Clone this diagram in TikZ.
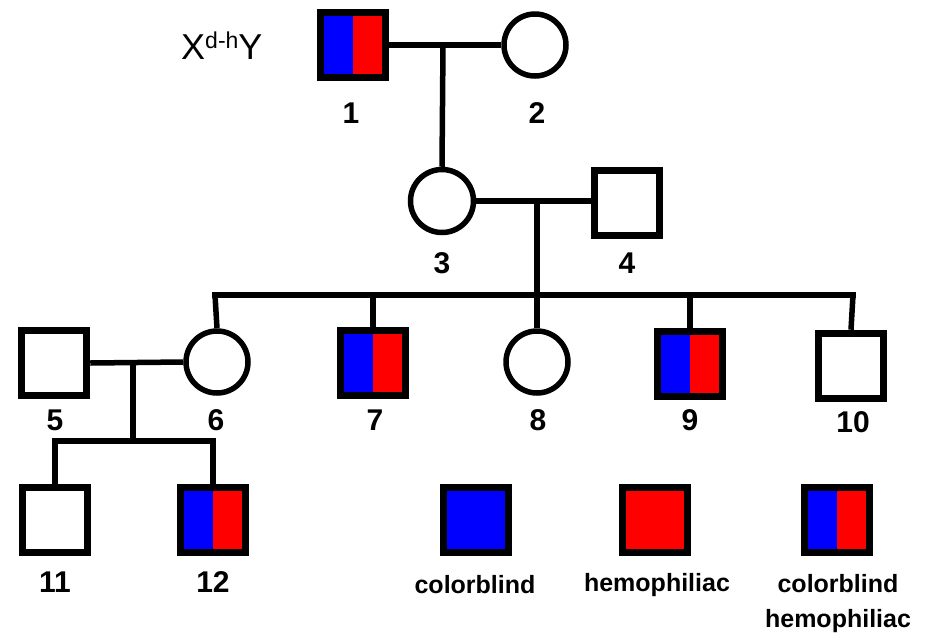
\documentclass[tikz,border=0pt]{standalone}
\usepackage{fontspec}
\setmainfont{Liberation Sans}
\definecolor{pblue}{RGB}{0,0,255}
\definecolor{pred}{RGB}{255,0,0}
\begin{document}
\begin{tikzpicture}[x=1pt,y=-1pt,
  male/.style={draw, line width=7.5pt, minimum size=65pt, inner sep=0pt, line join=miter},
  female/.style={circle, draw, line width=5.5pt, minimum size=62pt, inner sep=0pt},
  cb/.style={fill=pblue},
  hemo/.style={fill=pred},
  both/.style={path picture={
      \fill[pblue] (path picture bounding box.south west) rectangle (path picture bounding box.north);
      \fill[pred] (path picture bounding box.south) rectangle (path picture bounding box.north east);}},
  link/.style={line width=5.5pt},
  num/.style={font=\fontsize{30}{30}\selectfont\bfseries, inner sep=0pt},
  leg/.style={font=\fontsize{25}{35}\selectfont\bfseries, inner sep=0pt, align=center}]
\useasboundingbox (0,0) rectangle (938,633);
% generation I
\node[male, both] (n1) at (353,45) {};
\node[female] (n2) at (535,45) {};
\node[female, minimum size=63pt] (n3) at (442,201) {};
\node[male] (n4) at (627,203) {};
% generation III
\node[male] (n5) at (54,363) {};
\node[female] (n6) at (217,362) {};
\node[male, both] (n7) at (373,363) {};
\node[female] (n8) at (537,362) {};
\node[male, both] (n9) at (690,364) {};
\node[male] (n10) at (851,366) {};
% generation IV
\node[male] (n11) at (55,520) {};
\node[male, both] (n12) at (213,520) {};
% legend
\node[male, cb] (L1) at (476,520) {};
\node[male, hemo] (L2) at (655,520) {};
\node[male, both] (L3) at (837,520) {};
% coordinates
\coordinate (m12) at (443,45);
\coordinate (m34) at (537,201);
\coordinate (sib) at (537,295);
\coordinate (sibL) at (215,295);
\coordinate (sibR) at (853,295);
\coordinate (m56) at (133,362);
\coordinate (k56) at (133,441);
\coordinate (kL) at (55,441);
\coordinate (kR) at (213,441);
% connectors
\draw[link] (n1.east) -- (n2.west);
\draw[link] (m12) -- (n3.north);
\draw[link] (n3.east) -- (n3.east -| n4.west);
\draw[link] (m34) -- (sib);
\draw[link, line cap=rect] (sibL) -- (sibR);
\draw[link] (sibL) -- (n6.north);
\draw[link] (n7.north |- sib) -- (n7.north);
\draw[link] (n8.north |- sib) -- (n8.north);
\draw[link] (n9.north |- sib) -- (n9.north);
\draw[link] (sibR) -- (n10.north);
\draw[link] (n5.east) -- (n6.west);
\draw[link] (m56) -- (k56);
\draw[link, line cap=rect] (kL) -- (kR);
\draw[link] (kL) -- (n11.north);
\draw[link] (kR) -- (n12.north);
% labels
\node[num] (l1) at (351,113) {1};
\node[num] (l2) at (537,113) {2};
\node[num] (l3) at (442,263) {3};
\node[num] (l4) at (627,263) {4};
\node[num] (l5) at (55,420) {5};
\node[num] (l6) at (216,420) {6};
\node[num] (l7) at (375,420) {7};
\node[num] (l8) at (538,420) {8};
\node[num] (l9) at (690,420) {9};
\node[num] (l10) at (853,422) {10};
\node[num] (l11) at (55,582) {11};
\node[num] (l12) at (213,582) {12};
\node[leg] (t1) at (475,585) {colorblind};
\node[leg] (t2) at (657,585) {hemophiliac};
\node[leg, anchor=north] (t3) at (838,574) {colorblind\\hemophiliac};
\node[inner sep=0pt, anchor=base west, font=\fontsize{36}{36}\selectfont] (g1) at (181,59)
  {X\raisebox{11pt}{\fontsize{23}{23}\selectfont d-h}Y};
\end{tikzpicture}
\end{document}
